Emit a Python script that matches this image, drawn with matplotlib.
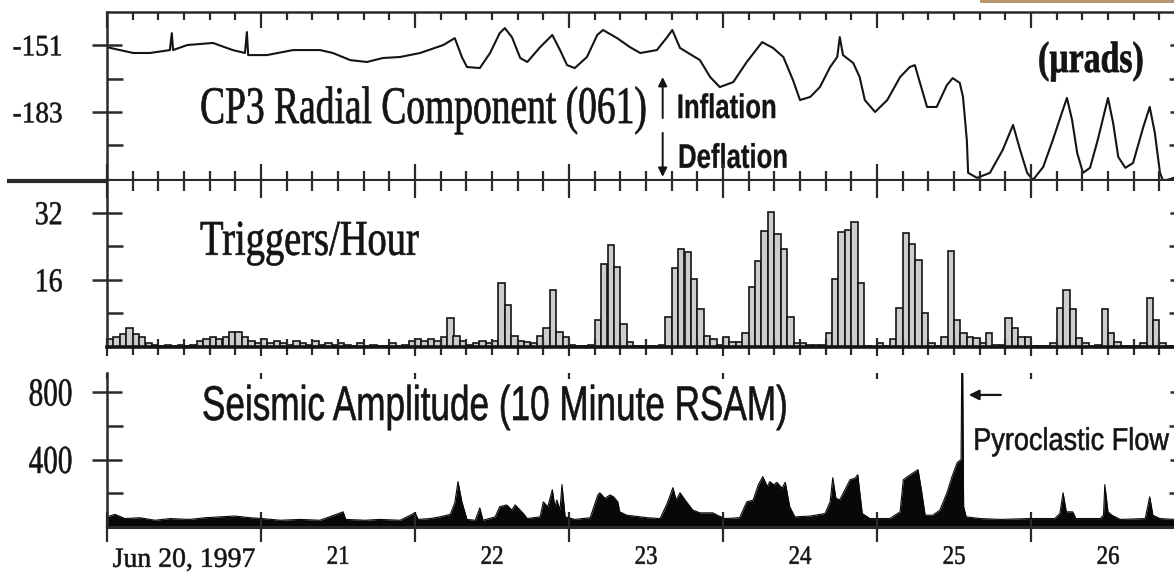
import numpy as np
import matplotlib.pyplot as plt
from matplotlib.patheffects import AbstractPathEffect
from matplotlib.transforms import Affine2D
from matplotlib.patches import Rectangle


#%% data (time axis = hours after Jun 20, 1997 00:00)

tilt_hr = [0.0, 2.0, 4.1, 6.7, 9.8, 10.1, 10.3, 12.5, 16.5, 19.6, 21.5, 21.8, 22.0,
           24.9, 29.0, 33.2, 35.2, 37.9, 40.5, 43.0, 45.7, 48.8, 52.4, 54.2, 55.3,
           56.1, 58.1, 59.7, 61.2, 62.0, 63.1, 64.4, 65.5, 67.5, 69.4, 70.6, 71.7,
           72.9, 74.8, 76.4, 77.3, 79.5, 81.5, 83.1, 85.7, 87.3, 88.1, 89.3, 92.4,
           94.0, 95.5, 97.6, 99.7, 102.1, 103.8, 105.4, 106.9, 108.0, 109.6, 111.1,
           112.7, 113.8, 114.2, 114.7, 116.3, 117.3, 118.1, 119.7, 121.6, 123.6,
           125.1, 125.9, 126.7, 127.8, 129.3, 130.9, 131.8, 132.9, 133.4, 134.0,
           134.2, 135.6, 137.6, 139.6, 141.2, 142.3, 143.4, 144.3, 145.9, 147.4,
           148.8, 149.6, 150.4, 151.2, 152.1, 153.2, 154.4, 156.0, 156.8, 157.6,
           158.7, 159.9, 161.5, 162.5, 163.3, 164.1, 164.6, 166.3, 168.0]
tilt_urad = [-152.0, -153.4, -154.8, -154.8, -153.4, -145.3, -153.4, -151.0, -150.0,
             -153.4, -154.8, -144.8, -155.8, -155.8, -153.4, -153.4, -154.8, -158.2,
             -159.1, -157.2, -156.7, -154.8, -151.0, -147.7, -156.7, -161.5, -162.0,
             -154.8, -145.3, -142.9, -147.2, -157.2, -159.1, -152.0, -146.2, -153.4,
             -160.6, -162.0, -156.7, -146.2, -143.8, -147.7, -152.0, -154.8, -153.4,
             -147.2, -143.8, -152.4, -158.2, -166.3, -171.1, -168.7, -159.1, -149.6,
             -152.4, -156.7, -167.7, -177.3, -175.8, -171.1, -161.5, -156.7, -147.2,
             -155.8, -159.6, -166.3, -177.3, -183.0, -177.3, -166.3, -161.5, -160.6,
             -169.1, -180.6, -180.6, -170.1, -166.8, -169.1, -175.8, -196.4, -212.1,
             -214.5, -212.1, -201.1, -189.2, -201.1, -212.1, -215.5, -209.3, -196.4,
             -183.5, -176.3, -186.8, -202.6, -212.1, -209.7, -196.4, -176.3, -188.3,
             -204.5, -209.7, -207.4, -190.2, -180.6, -193.0, -212.1, -216.0, -214.5,
             -210.0]

trig_per_hr = [
    2.0, 2.5, 3.0, 4.5, 3.0, 2.5, 1.0,
    0.5, 0.3, 0.5, 0.3, 0.5, 0.3, 0.5,
    1.5, 2.0, 2.5, 2.0, 2.5, 3.5, 3.5, 2.5, 1.5,
    1.0, 2.0, 1.0, 1.5, 1.0, 0.5, 1.5, 1.0, 0.5, 1.5, 0.5, 1.0, 0.5,
    1.0, 0.5, 0.3, 1.0, 0.3, 0.5, 0.3, 0.3, 1.0, 0.3, 0.5, 1.5,
    2.0, 1.5, 2.0, 1.5, 2.5, 6.9, 2.6,
    1.5, 0.5, 1.0, 1.5, 1.0, 1.5,
    15.3, 10.0, 2.6, 1.5, 1.3, 1.0, 2.6, 4.5, 13.6, 3.6, 2.3,
    0.5, 0.3, 0.3, 0.5,
    6.5, 19.8, 24.4, 19.1, 5.5, 1.3,
    0.3, 0.3, 0.3, 0.3, 0.5,
    7.2, 18.9, 23.4, 22.7, 16.3, 9.1, 2.6, 1.8, 0.5,
    2.3, 1.2, 1.2, 3.3,
    14.3, 20.6, 27.7, 32.3, 27.0, 23.4, 7.2,
    1.0, 1.0, 0.5, 0.5, 0.5,
    3.3, 16.3, 27.5, 28.0, 29.9, 15.3, 0.3,
    0.0, 1.0, 0.3,
    1.9, 9.3, 27.2, 24.6, 20.8, 8.1,
    1.0, 0.3, 2.4,
    22.9, 6.5, 3.3, 2.4, 2.1, 1.0, 3.3, 0.5, 0.5,
    6.9, 4.5, 2.4, 2.4,
    0.3, 0.3, 0.3, 1.0,
    9.3, 13.6, 9.1, 2.1, 1.0,
    0.3, 0.5,
    9.1, 3.3, 1.2,
    0.3, 0.3, 0.3,
    1.0, 11.7, 6.5, 1.0, 0.3, 0.3, 0.5]

rsam_hr = [0, 1.25, 2.8, 5.1, 7.5, 9.8, 12.9, 15.3, 17.6, 19.9, 22.3, 24.2, 27.0,
           30.1, 33.2, 36.8, 37.2, 40.2, 42.5, 45.7, 48.0, 48.5, 50.3, 51.9, 53.5,
           54.2, 54.7, 55.3, 56.1, 57.4, 58.1, 58.6, 60.5, 61.2, 62.3, 63.1, 63.6,
           64.4, 64.8, 65.5, 66.4, 67.5, 68.0, 68.7, 69.4, 69.8, 70.1, 70.6, 70.9,
           71.4, 72.9, 75.3, 76.5, 76.8, 77.6, 78.4, 78.9, 79.6, 79.9, 81.0, 83.1,
           84.2, 86.2, 87.3, 88.2, 88.7, 89.3, 90.1, 91.3, 92.4, 94.4, 95.1, 96.3,
           98.6, 99.7, 100.7, 101.5, 102.2, 102.9, 103.3, 103.9, 104.4, 105.2,
           105.7, 106.4, 107.2, 109.6, 111.9, 112.7, 113.1, 113.6, 114.2, 115.0,
           115.8, 116.6, 117.0, 117.7, 118.9, 122.0, 123.6, 124.1, 124.8, 125.6,
           126.4, 127.0, 127.5, 128.7, 129.8, 130.9, 131.7, 132.5, 133.1, 133.2,
           133.35, 133.5, 133.9, 136.1, 139.2, 143.8, 147.7, 148.5, 149.0, 149.5,
           150.5, 151.0, 154.8, 155.3, 155.5, 156.0, 156.6, 157.9, 161.8, 162.5,
           163.0, 164.1, 166.3, 168.0]
rsam_amp = [60, 75, 50, 55, 40, 50, 45, 55, 60, 65, 55, 50, 40,
            45, 40, 90, 45, 40, 45, 40, 84, 45, 50, 60, 75,
            143, 269, 150, 45, 40, 113, 40, 60, 120, 131, 100, 131,
            100, 84, 50, 55, 60, 149, 120, 221, 120, 160, 100, 251,
            60, 45, 55, 190, 203, 170, 190, 180, 150, 90, 70, 60,
            55, 50, 140, 233, 160, 203, 160, 100, 84, 84, 70, 50,
            55, 149, 160, 250, 299, 240, 269, 250, 265, 230,
            265, 120, 60, 65, 80, 150, 292, 170, 161, 220,
            280, 290, 310, 80, 50, 50, 90, 280, 300, 320,
            340, 200, 70, 70, 100, 203, 300, 382, 400, 920,
            920, 120, 60, 50, 45, 50, 50, 80, 203, 90,
            90, 50, 50, 70, 251, 90, 70, 45, 50, 179,
            70, 50, 45, 45]

day_labels = ['Jun 20, 1997', '21', '22', '23', '24', '25', '26']


#%% tall, slightly heavy lettering like the scanned original

class Tall(AbstractPathEffect):
    def __init__(self, sy=1.3, anchor='baseline', weight=0.5):
        super().__init__()
        self.sy = sy
        self.anchor = anchor
        self.weight = weight

    def draw_path(self, renderer, gc, tpath, affine, rgbFace=None):
        if self.anchor == 'baseline':
            y0 = affine.get_matrix()[1, 2]
        else:
            ext = tpath.get_extents(affine)
            y0 = 0.5 * (ext.y0 + ext.y1)
        stretch = Affine2D().translate(0, -y0).scale(1, self.sy).translate(0, y0)
        gc0 = renderer.new_gc()
        gc0.copy_properties(gc)
        gc0.set_linewidth(self.weight)
        gc0.set_foreground(rgbFace)
        gc0.set_joinstyle('round')
        renderer.draw_path(gc0, tpath, affine + stretch, rgbFace)
        gc0.restore()


ink = '#141414'
frame = '#2a2a2a'
serif = 'Liberation Serif'
sans = 'Liberation Sans'

W, H = 1174, 574
fig = plt.figure(figsize=(W / 100, H / 100), dpi=100)


def box(top, bottom):
    return [107 / W, 1 - bottom / H, (1185 - 107) / W, (bottom - top) / H]


ax1 = fig.add_axes(box(12, 181))
ax2 = fig.add_axes(box(181, 347))
ax3 = fig.add_axes(box(373, 527))

hours = np.arange(len(trig_per_hr))

ax1.plot(tilt_hr, tilt_urad, color=ink, lw=1.5)
ax2.bar(hours, trig_per_hr, width=1, align='edge', facecolor='#cdcdcd',
        edgecolor=ink, linewidth=1.2)
ax3.fill_between(rsam_hr, rsam_amp, color='#080808', lw=0)
ax3.plot(rsam_hr, rsam_amp, color='#080808', lw=0.8)

ax1.set_ylim(-216, -135.2)
ax2.set_ylim(0, 39.6)
ax3.set_ylim(0, 913)
for ax in (ax1, ax2, ax3):
    ax.set_xlim(0, 168)
    for s in ax.spines.values():
        s.set_color(frame)
        s.set_linewidth(1.8)
ax1.spines['bottom'].set_linewidth(3.0)
ax2.spines['top'].set_visible(False)
ax2.spines['bottom'].set_linewidth(2.6)
ax2.spines['bottom'].set_color(ink)
ax3.spines['top'].set_visible(False)
ax3.spines['bottom'].set_linewidth(2.2)

# thick separator runs out past the axis on the left
ax1.plot([-100 / 1078, 0], [0, 0], transform=ax1.transAxes, clip_on=False,
         color=frame, lw=3.0, solid_capstyle='butt')

days = np.arange(0, 169, 24)
four_hr = np.arange(0, 169, 4)

# x ticks
ax1.xaxis.tick_top()
ax1.set_xticks(days)
ax1.set_xticks(four_hr, minor=True)
ax1.tick_params(axis='x', which='major', direction='in', length=11.5, width=1.6,
                color=frame, labeltop=False, labelbottom=False)
ax1.tick_params(axis='x', which='minor', direction='in', length=6, width=1.6, color=frame)

ax2t = ax2.twiny()
ax2t.set_xlim(0, 168)
for s in ax2t.spines.values():
    s.set_visible(False)
ax2t.set_xticks(days)
ax2t.set_xticks(four_hr, minor=True)
ax2t.tick_params(axis='x', which='major', direction='inout', length=24, width=1.6,
                 color=frame, labeltop=False)
ax2t.tick_params(axis='x', which='minor', direction='inout', length=14, width=1.6,
                 color=frame)

ax2.set_xticks(days)
ax2.set_xticks(four_hr, minor=True)
ax2.tick_params(axis='x', which='major', direction='inout', length=13, width=1.6,
                color=frame, labelbottom=False)
ax2.tick_params(axis='x', which='minor', direction='inout', length=11, width=1.6,
                color=frame)

ax3t = ax3.twiny()
ax3t.set_xlim(0, 168)
for s in ax3t.spines.values():
    s.set_visible(False)
ax3t.set_xticks(days)
ax3t.tick_params(axis='x', which='major', direction='in', length=4, width=1.6,
                 color=frame, labeltop=False)

ax3.set_xticks(days)
ax3.set_xticks(days[:-1] + 12, minor=True)
ax3.set_xticklabels(day_labels, minor=True, fontfamily=serif, fontsize=16.5, color=ink)
ax3.tick_params(axis='x', which='major', direction='inout', length=22, width=1.6,
                color=frame, labelbottom=False)
ax3.tick_params(axis='x', which='minor', length=0, pad=15)
xlabs = ax3.get_xticklabels(minor=True)
xlabs[0].set_fontsize(20)
xlabs[0].set_path_effects([Tall(1.0, 'baseline', 0.4)])
for lab in xlabs[1:]:
    lab.set_path_effects([Tall(1.16, 'baseline', 0.4)])

# y ticks
yt = [(ax1, [-151, -183], [-167, -199], ['-151', '-183'], 19.6, 1.09, 21),
      (ax2, [16, 32], [8, 24], ['16', '32'], 20, 1.2, 21),
      (ax3, [400, 800], [200, 600], ['400', '800'], 21, 1.36, 14)]
for ax, major, minor, labels, size, sy, pad in yt:
    ax.set_yticks(major)
    ax.set_yticks(minor, minor=True)
    ax.set_yticklabels(labels, fontfamily=serif, fontsize=size, color=ink)
    ax.tick_params(axis='y', which='major', direction='inout', length=22, width=1.8,
                   color=frame, left=True, right=True, pad=pad)
    ax.tick_params(axis='y', which='minor', direction='in', length=11.5, width=1.8,
                   color=frame, left=True, right=True)
    for lab in ax.get_yticklabels():
        lab.set_path_effects([Tall(sy, 'center', 0.4)])

# panel titles and notes
ax1.text(14.5, -188.3, 'CP3 Radial Component (061)', fontfamily=serif, fontsize=27,
         color=ink, va='baseline', path_effects=[Tall(1.41)])
ax1.text(145.1, -163.9, '(\u00b5rads)', fontfamily=serif, fontweight='bold', fontsize=24.3,
         color=ink, va='baseline', path_effects=[Tall(1.3)])
ax1.text(88.8, -185.9, 'Inflation', fontfamily=sans, fontweight='bold', fontsize=18.5,
         color=ink, va='baseline', path_effects=[Tall(1.33, weight=0.2)])
ax1.text(89.0, -209.7, 'Deflation', fontfamily=sans, fontweight='bold', fontsize=18.5,
         color=ink, va='baseline', path_effects=[Tall(1.33, weight=0.2)])
arrow = dict(arrowstyle='-|>', color=ink, lw=1.4, mutation_scale=13, shrinkA=0, shrinkB=0)
ax1.annotate('', xy=(86.6, -166.3), xytext=(86.6, -185.9), arrowprops=arrow)
ax1.annotate('', xy=(86.6, -214.0), xytext=(86.6, -193.0), arrowprops=arrow)

ax2.text(14.5, 22.0, 'Triggers/Hour', fontfamily=serif, fontsize=27.7, color=ink,
         va='baseline', path_effects=[Tall(1.3)])

ax3.text(14.8, 634, 'Seismic Amplitude (10 Minute RSAM)', fontfamily=sans, fontsize=25.3,
         color=ink, va='baseline', path_effects=[Tall(1.39, weight=0.4)])
ax3.text(135.0, 457, 'Pyroclastic Flow', fontfamily=sans, fontsize=19.5, color=ink,
         va='baseline', path_effects=[Tall(1.16, weight=0.4)])
ax3.annotate('', xy=(134.3, 783), xytext=(139.3, 783),
             arrowprops=dict(arrowstyle='-|>', color=ink, lw=1.6, mutation_scale=15,
                             shrinkA=0, shrinkB=0))

# page edge showing at the top right of the scan
fig.add_artist(Rectangle((980 / W, 1 - 3 / H), 194 / W, 3 / H, transform=fig.transFigure,
                         color='#b9966e', lw=0))

fig.savefig('out.png', dpi=100)
